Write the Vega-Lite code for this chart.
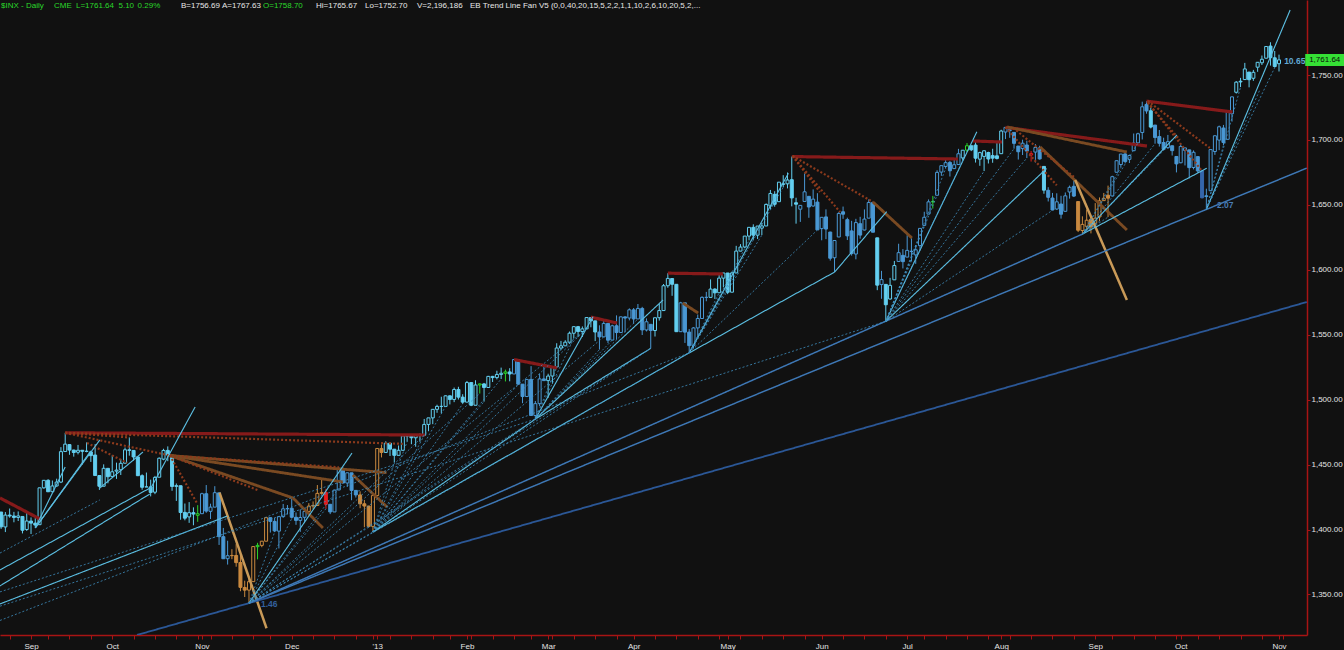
{
"$schema":"https://vega.github.io/schema/vega-lite/v6.json",
"width":1307,"height":635,
"autosize":{"type":"none"},
"padding":{"left":0,"top":0,"right":37,"bottom":15},
"background":"#111111",
"config":{"view":{"stroke":null}},
"datasets":{
"ohlc":[
{"i":0,"o":1413.49,"h":1413.49,"l":1400.5,"c":1402.08,"t":"c"},
{"i":1,"o":1401.99,"h":1413.46,"l":1398.04,"c":1411.13,"t":"c"},
{"i":2,"o":1411.13,"h":1416.17,"l":1409.11,"c":1410.44,"t":"c"},
{"i":3,"o":1410.44,"h":1413.63,"l":1405.59,"c":1409.3,"t":"c"},
{"i":4,"o":1409.32,"h":1413.95,"l":1406.57,"c":1410.49,"t":"c"},
{"i":5,"o":1410.08,"h":1410.08,"l":1397.01,"c":1399.48,"t":"c"},
{"i":6,"o":1400.07,"h":1413.09,"l":1398.96,"c":1406.58,"t":"c"},
{"i":7,"o":1406.54,"h":1409.31,"l":1396.56,"c":1404.94,"t":"c"},
{"i":8,"o":1404.94,"h":1408.81,"l":1401.25,"c":1403.44,"t":"c"},
{"i":9,"o":1403.74,"h":1432.12,"l":1403.74,"c":1432.12,"t":"c"},
{"i":10,"o":1432.12,"h":1437.92,"l":1431.45,"c":1437.92,"t":"c"},
{"i":11,"o":1437.92,"h":1438.74,"l":1428.98,"c":1429.08,"t":"c"},
{"i":12,"o":1429.13,"h":1437.76,"l":1429.13,"c":1433.56,"t":"c"},
{"i":13,"o":1433.56,"h":1439.15,"l":1432.99,"c":1436.56,"t":"c"},
{"i":14,"o":1436.56,"h":1463.46,"l":1435.77,"c":1459.99,"t":"c"},
{"i":15,"o":1460.07,"h":1474.51,"l":1460.07,"c":1465.77,"t":"c"},
{"i":16,"o":1465.42,"h":1465.63,"l":1457.55,"c":1461.19,"t":"c"},
{"i":17,"o":1461.19,"h":1461.47,"l":1456.13,"c":1459.32,"t":"c"},
{"i":18,"o":1459.5,"h":1465.15,"l":1457.88,"c":1461.05,"t":"c"},
{"i":19,"o":1461.05,"h":1461.23,"l":1449.98,"c":1460.26,"t":"c"},
{"i":20,"o":1460.34,"h":1467.07,"l":1459.51,"c":1460.15,"t":"c"},
{"i":21,"o":1459.76,"h":1460.72,"l":1452.06,"c":1456.89,"t":"c"},
{"i":22,"o":1457.38,"h":1465.75,"l":1441.59,"c":1441.59,"t":"c"},
{"i":23,"o":1441.6,"h":1441.6,"l":1430.53,"c":1433.32,"t":"c"},
{"i":24,"o":1433.36,"h":1450.2,"l":1433.36,"c":1447.15,"t":"c"},
{"i":25,"o":1447.13,"h":1447.13,"l":1435.6,"c":1440.67,"t":"c"},
{"i":26,"o":1440.9,"h":1457.14,"l":1440.9,"c":1444.49,"t":"c"},
{"i":27,"o":1444.99,"h":1451.52,"l":1439.01,"c":1445.75,"t":"c"},
{"i":28,"o":1446.05,"h":1454.3,"l":1441.99,"c":1450.99,"t":"c"},
{"i":29,"o":1451.08,"h":1463.14,"l":1451.08,"c":1461.4,"t":"c"},
{"i":30,"o":1461.4,"h":1470.96,"l":1456.89,"c":1460.93,"t":"c"},
{"i":31,"o":1460.93,"h":1460.93,"l":1453.1,"c":1455.88,"t":"c"},
{"i":32,"o":1455.9,"h":1455.9,"l":1441.18,"c":1441.48,"t":"c"},
{"i":33,"o":1441.48,"h":1442.52,"l":1430.64,"c":1432.56,"t":"c"},
{"i":34,"o":1432.82,"h":1443.9,"l":1432.82,"c":1432.84,"t":"c"},
{"i":35,"o":1432.84,"h":1438.43,"l":1425.53,"c":1428.59,"t":"c"},
{"i":36,"o":1428.75,"h":1441.31,"l":1427.24,"c":1440.13,"t":"c"},
{"i":37,"o":1440.31,"h":1455.51,"l":1440.31,"c":1454.92,"t":"c"},
{"i":38,"o":1454.22,"h":1462.2,"l":1453.35,"c":1460.91,"t":"c"},
{"i":39,"o":1460.94,"h":1464.02,"l":1452.63,"c":1457.34,"t":"c"},
{"i":40,"o":1457.34,"h":1457.34,"l":1429.85,"c":1433.19,"t":"c"},
{"i":41,"o":1433.21,"h":1435.46,"l":1422.06,"c":1433.82,"t":"c"},
{"i":42,"o":1433.74,"h":1433.74,"l":1407.56,"c":1413.11,"t":"c"},
{"i":43,"o":1413.2,"h":1420.04,"l":1407.1,"c":1408.75,"t":"c"},
{"i":44,"o":1409.74,"h":1421.12,"l":1405.14,"c":1412.97,"t":"c"},
{"i":45,"o":1412.97,"h":1417.09,"l":1403.28,"c":1411.94,"t":"c"},
{"i":46,"o":1410.99,"h":1418.76,"l":1405.95,"c":1412.16,"t":"g"},
{"i":47,"o":1412.2,"h":1428.35,"l":1412.2,"c":1427.59,"t":"b"},
{"i":48,"o":1427.59,"h":1434.27,"l":1412.91,"c":1414.2,"t":"b"},
{"i":49,"o":1414.02,"h":1419.9,"l":1408.13,"c":1417.26,"t":"b"},
{"i":50,"o":1417.26,"h":1433.38,"l":1417.26,"c":1428.39,"t":"b"},
{"i":51,"o":1428.27,"h":1428.27,"l":1388.14,"c":1394.53,"t":"b"},
{"i":52,"o":1394.53,"h":1401.23,"l":1377.51,"c":1377.51,"t":"b"},
{"i":53,"o":1377.55,"h":1391.39,"l":1373.03,"c":1379.85,"t":"b"},
{"i":54,"o":1379.86,"h":1384.87,"l":1377.19,"c":1380.03,"t":"o"},
{"i":55,"o":1380.03,"h":1388.81,"l":1371.39,"c":1374.53,"t":"o"},
{"i":56,"o":1374.64,"h":1380.13,"l":1352.5,"c":1355.49,"t":"o"},
{"i":57,"o":1355.41,"h":1360.62,"l":1348.05,"c":1353.33,"t":"o"},
{"i":58,"o":1353.36,"h":1362.03,"l":1343.35,"c":1359.88,"t":"o"},
{"i":59,"o":1359.88,"h":1386.89,"l":1359.88,"c":1386.89,"t":"o"},
{"i":60,"o":1386.82,"h":1389.77,"l":1377.04,"c":1387.81,"t":"g"},
{"i":61,"o":1387.79,"h":1391.25,"l":1386.39,"c":1391.03,"t":"o"},
{"i":62,"o":1391.03,"h":1409.16,"l":1391.03,"c":1409.15,"t":"o"},
{"i":63,"o":1409.15,"h":1409.15,"l":1397.68,"c":1406.29,"t":"b"},
{"i":64,"o":1406.29,"h":1409.01,"l":1398.03,"c":1398.94,"t":"b"},
{"i":65,"o":1398.77,"h":1410.31,"l":1385.43,"c":1409.93,"t":"b"},
{"i":66,"o":1409.96,"h":1419.7,"l":1409.04,"c":1415.95,"t":"b"},
{"i":67,"o":1415.95,"h":1418.86,"l":1411.63,"c":1416.18,"t":"b"},
{"i":68,"o":1416.34,"h":1423.73,"l":1408.46,"c":1409.46,"t":"b"},
{"i":69,"o":1409.46,"h":1413.14,"l":1403.65,"c":1407.05,"t":"b"},
{"i":70,"o":1407.05,"h":1415.56,"l":1398.23,"c":1409.28,"t":"b"},
{"i":71,"o":1409.43,"h":1413.95,"l":1405.93,"c":1413.94,"t":"b"},
{"i":72,"o":1413.95,"h":1420.34,"l":1410.9,"c":1418.07,"t":"o"},
{"i":73,"o":1418.07,"h":1421.64,"l":1415.64,"c":1418.55,"t":"o"},
{"i":74,"o":1418.55,"h":1434.27,"l":1418.55,"c":1427.84,"t":"o"},
{"i":75,"o":1427.84,"h":1438.59,"l":1426.76,"c":1428.48,"t":"o"},
{"i":76,"o":1428.48,"h":1431.36,"l":1416.0,"c":1419.45,"t":"r"},
{"i":77,"o":1419.45,"h":1419.45,"l":1411.88,"c":1413.58,"t":"b"},
{"i":78,"o":1413.54,"h":1430.67,"l":1413.54,"c":1430.36,"t":"b"},
{"i":79,"o":1430.47,"h":1448.0,"l":1430.47,"c":1446.79,"t":"b"},
{"i":80,"o":1446.79,"h":1447.75,"l":1435.8,"c":1435.81,"t":"b"},
{"i":81,"o":1435.81,"h":1443.7,"l":1432.82,"c":1443.69,"t":"b"},
{"i":82,"o":1443.67,"h":1443.67,"l":1422.58,"c":1430.15,"t":"b"},
{"i":83,"o":1430.15,"h":1430.15,"l":1424.66,"c":1426.66,"t":"b"},
{"i":84,"o":1426.66,"h":1429.42,"l":1416.43,"c":1419.83,"t":"o"},
{"i":85,"o":1419.83,"h":1422.8,"l":1401.8,"c":1418.1,"t":"o"},
{"i":86,"o":1418.1,"h":1418.1,"l":1401.58,"c":1402.43,"t":"o"},
{"i":87,"o":1402.43,"h":1426.74,"l":1398.11,"c":1426.19,"t":"o"},
{"i":88,"o":1426.19,"h":1462.43,"l":1426.19,"c":1462.42,"t":"o"},
{"i":89,"o":1462.42,"h":1465.47,"l":1455.53,"c":1459.37,"t":"o"},
{"i":90,"o":1459.37,"h":1467.94,"l":1458.99,"c":1466.47,"t":"c"},
{"i":91,"o":1466.47,"h":1466.47,"l":1456.62,"c":1461.89,"t":"c"},
{"i":92,"o":1461.89,"h":1461.89,"l":1451.64,"c":1457.15,"t":"c"},
{"i":93,"o":1457.15,"h":1464.73,"l":1457.15,"c":1461.02,"t":"c"},
{"i":94,"o":1461.02,"h":1472.3,"l":1461.02,"c":1472.12,"t":"c"},
{"i":95,"o":1472.12,"h":1472.75,"l":1467.58,"c":1472.05,"t":"c"},
{"i":96,"o":1472.05,"h":1472.05,"l":1465.69,"c":1470.68,"t":"c"},
{"i":97,"o":1470.67,"h":1473.31,"l":1463.76,"c":1472.34,"t":"c"},
{"i":98,"o":1472.33,"h":1473.96,"l":1467.6,"c":1472.63,"t":"c"},
{"i":99,"o":1472.63,"h":1485.16,"l":1472.63,"c":1480.94,"t":"c"},
{"i":100,"o":1480.95,"h":1485.98,"l":1475.81,"c":1485.98,"t":"c"},
{"i":101,"o":1485.98,"h":1492.56,"l":1481.16,"c":1492.56,"t":"c"},
{"i":102,"o":1492.56,"h":1496.13,"l":1489.9,"c":1494.81,"t":"c"},
{"i":103,"o":1494.81,"h":1502.27,"l":1489.46,"c":1494.82,"t":"c"},
{"i":104,"o":1494.82,"h":1503.26,"l":1494.82,"c":1502.96,"t":"c"},
{"i":105,"o":1502.96,"h":1503.23,"l":1496.33,"c":1500.18,"t":"c"},
{"i":106,"o":1500.18,"h":1509.35,"l":1498.09,"c":1507.84,"t":"c"},
{"i":107,"o":1507.84,"h":1509.94,"l":1500.11,"c":1501.96,"t":"c"},
{"i":108,"o":1501.96,"h":1504.19,"l":1496.76,"c":1498.11,"t":"c"},
{"i":109,"o":1498.11,"h":1514.41,"l":1498.11,"c":1513.17,"t":"c"},
{"i":110,"o":1513.17,"h":1513.17,"l":1495.02,"c":1495.71,"t":"c"},
{"i":111,"o":1495.71,"h":1514.96,"l":1495.71,"c":1511.29,"t":"c"},
{"i":112,"o":1511.29,"h":1512.53,"l":1504.71,"c":1512.12,"t":"g"},
{"i":113,"o":1512.12,"h":1512.9,"l":1498.49,"c":1509.39,"t":"c"},
{"i":114,"o":1509.39,"h":1518.31,"l":1509.39,"c":1517.93,"t":"c"},
{"i":115,"o":1517.93,"h":1518.31,"l":1513.61,"c":1517.01,"t":"c"},
{"i":116,"o":1517.01,"h":1522.29,"l":1515.61,"c":1519.43,"t":"c"},
{"i":117,"o":1519.43,"h":1524.69,"l":1515.93,"c":1520.33,"t":"c"},
{"i":118,"o":1520.33,"h":1523.14,"l":1514.02,"c":1521.38,"t":"g"},
{"i":119,"o":1521.38,"h":1524.24,"l":1514.14,"c":1519.79,"t":"c"},
{"i":120,"o":1519.79,"h":1530.94,"l":1519.79,"c":1530.94,"t":"b"},
{"i":121,"o":1530.94,"h":1530.94,"l":1511.41,"c":1511.95,"t":"b"},
{"i":122,"o":1511.95,"h":1511.95,"l":1497.29,"c":1502.42,"t":"b"},
{"i":123,"o":1502.42,"h":1515.64,"l":1502.42,"c":1515.6,"t":"b"},
{"i":124,"o":1515.6,"h":1525.84,"l":1487.85,"c":1487.85,"t":"b"},
{"i":125,"o":1487.85,"h":1498.99,"l":1485.01,"c":1496.94,"t":"b"},
{"i":126,"o":1496.94,"h":1520.08,"l":1494.88,"c":1515.99,"t":"b"},
{"i":127,"o":1515.99,"h":1525.34,"l":1514.46,"c":1514.68,"t":"b"},
{"i":128,"o":1514.68,"h":1519.99,"l":1501.48,"c":1518.2,"t":"c"},
{"i":129,"o":1518.2,"h":1525.27,"l":1512.29,"c":1525.2,"t":"c"},
{"i":130,"o":1525.2,"h":1543.47,"l":1525.2,"c":1539.79,"t":"c"},
{"i":131,"o":1539.79,"h":1545.25,"l":1538.11,"c":1541.46,"t":"c"},
{"i":132,"o":1541.46,"h":1545.78,"l":1541.46,"c":1544.26,"t":"c"},
{"i":133,"o":1544.26,"h":1552.48,"l":1542.94,"c":1551.18,"t":"c"},
{"i":134,"o":1551.15,"h":1556.27,"l":1547.36,"c":1556.22,"t":"c"},
{"i":135,"o":1556.22,"h":1556.77,"l":1548.24,"c":1552.48,"t":"c"},
{"i":136,"o":1552.48,"h":1556.39,"l":1548.25,"c":1554.52,"t":"c"},
{"i":137,"o":1554.52,"h":1563.32,"l":1554.52,"c":1563.23,"t":"c"},
{"i":138,"o":1563.21,"h":1563.62,"l":1555.74,"c":1560.7,"t":"c"},
{"i":139,"o":1560.7,"h":1560.7,"l":1545.13,"c":1552.1,"t":"c"},
{"i":140,"o":1552.1,"h":1557.25,"l":1538.57,"c":1548.34,"t":"b"},
{"i":141,"o":1548.34,"h":1561.56,"l":1548.34,"c":1558.71,"t":"b"},
{"i":142,"o":1558.71,"h":1558.71,"l":1543.55,"c":1545.8,"t":"b"},
{"i":143,"o":1545.9,"h":1557.74,"l":1545.9,"c":1556.89,"t":"b"},
{"i":144,"o":1556.89,"h":1564.91,"l":1546.22,"c":1551.69,"t":"b"},
{"i":145,"o":1551.69,"h":1563.95,"l":1551.69,"c":1563.77,"t":"b"},
{"i":146,"o":1563.75,"h":1564.07,"l":1551.9,"c":1562.85,"t":"b"},
{"i":147,"o":1562.86,"h":1570.28,"l":1561.08,"c":1569.19,"t":"b"},
{"i":148,"o":1569.18,"h":1570.57,"l":1558.47,"c":1562.17,"t":"b"},
{"i":149,"o":1562.17,"h":1573.66,"l":1562.17,"c":1570.25,"t":"b"},
{"i":150,"o":1570.25,"h":1571.47,"l":1549.8,"c":1553.69,"t":"b"},
{"i":151,"o":1553.69,"h":1562.6,"l":1552.52,"c":1559.98,"t":"b"},
{"i":152,"o":1558.02,"h":1558.02,"l":1539.5,"c":1553.28,"t":"b"},
{"i":153,"o":1553.26,"h":1563.07,"l":1548.63,"c":1563.07,"t":"c"},
{"i":154,"o":1563.11,"h":1573.89,"l":1560.92,"c":1568.61,"t":"c"},
{"i":155,"o":1568.61,"h":1589.07,"l":1568.61,"c":1587.73,"t":"c"},
{"i":156,"o":1587.73,"h":1597.35,"l":1586.17,"c":1593.37,"t":"c"},
{"i":157,"o":1593.3,"h":1593.3,"l":1579.97,"c":1588.85,"t":"c"},
{"i":158,"o":1588.84,"h":1588.84,"l":1552.28,"c":1552.36,"t":"c"},
{"i":159,"o":1552.36,"h":1575.35,"l":1552.36,"c":1574.57,"t":"b"},
{"i":160,"o":1574.57,"h":1574.57,"l":1543.69,"c":1552.01,"t":"b"},
{"i":161,"o":1552.03,"h":1554.38,"l":1536.03,"c":1541.61,"t":"b"},
{"i":162,"o":1541.61,"h":1555.89,"l":1539.4,"c":1555.25,"t":"b"},
{"i":163,"o":1555.25,"h":1565.55,"l":1548.19,"c":1562.5,"t":"b"},
{"i":164,"o":1562.5,"h":1579.58,"l":1562.5,"c":1578.78,"t":"b"},
{"i":165,"o":1578.78,"h":1583.0,"l":1575.8,"c":1578.79,"t":"b"},
{"i":166,"o":1578.78,"h":1592.64,"l":1578.78,"c":1585.16,"t":"c"},
{"i":167,"o":1585.16,"h":1585.78,"l":1577.56,"c":1582.24,"t":"c"},
{"i":168,"o":1582.34,"h":1596.65,"l":1582.34,"c":1593.61,"t":"c"},
{"i":169,"o":1593.58,"h":1597.57,"l":1586.5,"c":1597.57,"t":"c"},
{"i":170,"o":1597.55,"h":1597.55,"l":1581.28,"c":1582.7,"t":"c"},
{"i":171,"o":1582.77,"h":1598.6,"l":1582.77,"c":1597.59,"t":"c"},
{"i":172,"o":1597.6,"h":1618.46,"l":1597.6,"c":1614.42,"t":"c"},
{"i":173,"o":1614.4,"h":1619.77,"l":1614.21,"c":1617.5,"t":"c"},
{"i":174,"o":1617.55,"h":1626.03,"l":1616.64,"c":1625.96,"t":"c"},
{"i":175,"o":1625.95,"h":1632.78,"l":1622.7,"c":1632.69,"t":"c"},
{"i":176,"o":1632.69,"h":1635.01,"l":1623.09,"c":1626.67,"t":"c"},
{"i":177,"o":1626.69,"h":1633.7,"l":1623.71,"c":1633.7,"t":"c"},
{"i":178,"o":1632.1,"h":1636.0,"l":1626.74,"c":1633.77,"t":"c"},
{"i":179,"o":1633.75,"h":1651.1,"l":1633.75,"c":1650.34,"t":"c"},
{"i":180,"o":1649.13,"h":1661.49,"l":1646.68,"c":1658.78,"t":"c"},
{"i":181,"o":1658.07,"h":1660.51,"l":1648.6,"c":1650.47,"t":"c"},
{"i":182,"o":1652.45,"h":1667.47,"l":1652.45,"c":1667.47,"t":"c"},
{"i":183,"o":1665.71,"h":1672.84,"l":1663.52,"c":1666.29,"t":"c"},
{"i":184,"o":1666.2,"h":1674.93,"l":1662.67,"c":1669.16,"t":"c"},
{"i":185,"o":1669.39,"h":1687.18,"l":1648.86,"c":1655.35,"t":"c"},
{"i":186,"o":1651.62,"h":1655.5,"l":1635.53,"c":1650.51,"t":"c"},
{"i":187,"o":1646.67,"h":1649.78,"l":1636.88,"c":1649.6,"t":"b"},
{"i":188,"o":1652.63,"h":1674.21,"l":1652.63,"c":1660.06,"t":"b"},
{"i":189,"o":1656.57,"h":1656.57,"l":1640.05,"c":1648.36,"t":"b"},
{"i":190,"o":1649.14,"h":1661.91,"l":1648.61,"c":1654.41,"t":"b"},
{"i":191,"o":1652.13,"h":1658.99,"l":1630.74,"c":1630.74,"t":"b"},
{"i":192,"o":1631.71,"h":1640.42,"l":1622.72,"c":1640.42,"t":"b"},
{"i":193,"o":1640.73,"h":1646.53,"l":1623.62,"c":1631.38,"t":"b"},
{"i":194,"o":1629.05,"h":1629.31,"l":1607.09,"c":1608.9,"t":"b"},
{"i":195,"o":1609.29,"h":1622.56,"l":1598.23,"c":1622.56,"t":"b"},
{"i":196,"o":1625.27,"h":1644.4,"l":1625.27,"c":1643.38,"t":"b"},
{"i":197,"o":1644.67,"h":1648.69,"l":1639.26,"c":1642.81,"t":"b"},
{"i":198,"o":1638.64,"h":1640.13,"l":1622.92,"c":1626.13,"t":"b"},
{"i":199,"o":1629.94,"h":1637.71,"l":1610.92,"c":1612.52,"t":"b"},
{"i":200,"o":1612.15,"h":1639.25,"l":1608.07,"c":1636.36,"t":"b"},
{"i":201,"o":1635.52,"h":1640.8,"l":1623.96,"c":1626.73,"t":"b"},
{"i":202,"o":1630.64,"h":1646.5,"l":1630.34,"c":1639.04,"t":"b"},
{"i":203,"o":1639.77,"h":1654.19,"l":1639.77,"c":1651.81,"t":"b"},
{"i":204,"o":1651.83,"h":1652.45,"l":1628.91,"c":1628.93,"t":"b"},
{"i":205,"o":1624.62,"h":1624.62,"l":1584.32,"c":1588.19,"t":"c"},
{"i":206,"o":1588.62,"h":1599.19,"l":1577.7,"c":1592.43,"t":"b"},
{"i":207,"o":1588.77,"h":1588.77,"l":1560.33,"c":1573.09,"t":"c"},
{"i":208,"o":1577.52,"h":1593.79,"l":1577.09,"c":1588.03,"t":"c"},
{"i":209,"o":1592.27,"h":1606.83,"l":1592.27,"c":1603.26,"t":"c"},
{"i":210,"o":1606.44,"h":1620.07,"l":1606.44,"c":1613.2,"t":"b"},
{"i":211,"o":1611.12,"h":1615.94,"l":1601.06,"c":1606.28,"t":"b"},
{"i":212,"o":1609.78,"h":1626.61,"l":1609.78,"c":1614.96,"t":"b"},
{"i":213,"o":1614.29,"h":1624.26,"l":1606.77,"c":1614.08,"t":"b"},
{"i":214,"o":1611.48,"h":1618.97,"l":1604.57,"c":1615.41,"t":"b"},
{"i":215,"o":1618.65,"h":1632.07,"l":1614.71,"c":1631.89,"t":"b"},
{"i":216,"o":1634.2,"h":1644.68,"l":1634.2,"c":1640.46,"t":"b"},
{"i":217,"o":1642.89,"h":1654.18,"l":1642.89,"c":1652.32,"t":"b"},
{"i":218,"o":1652.29,"h":1656.92,"l":1647.17,"c":1652.62,"t":"g"},
{"i":219,"o":1657.41,"h":1676.63,"l":1657.41,"c":1675.02,"t":"b"},
{"i":220,"o":1675.26,"h":1680.19,"l":1672.33,"c":1680.19,"t":"b"},
{"i":221,"o":1679.59,"h":1684.51,"l":1677.89,"c":1682.5,"t":"b"},
{"i":222,"o":1682.7,"h":1683.73,"l":1671.84,"c":1676.26,"t":"b"},
{"i":223,"o":1677.91,"h":1684.75,"l":1677.91,"c":1680.91,"t":"b"},
{"i":224,"o":1681.05,"h":1693.12,"l":1681.05,"c":1689.37,"t":"b"},
{"i":225,"o":1686.15,"h":1692.09,"l":1684.08,"c":1692.09,"t":"c"},
{"i":226,"o":1692.09,"h":1697.61,"l":1690.67,"c":1695.53,"t":"g"},
{"i":227,"o":1695.53,"h":1695.53,"l":1691.39,"c":1692.39,"t":"c"},
{"i":228,"o":1696.06,"h":1698.38,"l":1682.57,"c":1685.94,"t":"c"},
{"i":229,"o":1685.21,"h":1690.94,"l":1680.07,"c":1690.25,"t":"c"},
{"i":230,"o":1687.31,"h":1691.85,"l":1676.03,"c":1691.65,"t":"c"},
{"i":231,"o":1690.32,"h":1690.92,"l":1681.86,"c":1685.33,"t":"c"},
{"i":232,"o":1687.92,"h":1693.19,"l":1682.42,"c":1685.96,"t":"c"},
{"i":233,"o":1687.76,"h":1698.43,"l":1684.94,"c":1685.73,"t":"c"},
{"i":234,"o":1689.42,"h":1707.85,"l":1689.42,"c":1706.87,"t":"c"},
{"i":235,"o":1706.1,"h":1709.67,"l":1700.68,"c":1709.67,"t":"b"},
{"i":236,"o":1708.01,"h":1709.24,"l":1701.63,"c":1707.14,"t":"b"},
{"i":237,"o":1705.79,"h":1705.79,"l":1693.29,"c":1697.37,"t":"b"},
{"i":238,"o":1695.3,"h":1695.3,"l":1684.91,"c":1690.91,"t":"b"},
{"i":239,"o":1693.35,"h":1700.18,"l":1688.38,"c":1697.48,"t":"b"},
{"i":240,"o":1696.1,"h":1699.42,"l":1686.02,"c":1691.42,"t":"b"},
{"i":241,"o":1688.37,"h":1691.49,"l":1683.35,"c":1689.47,"t":"r"},
{"i":242,"o":1690.65,"h":1696.81,"l":1682.62,"c":1694.16,"t":"b"},
{"i":243,"o":1693.88,"h":1695.52,"l":1684.83,"c":1685.39,"t":"b"},
{"i":244,"o":1679.61,"h":1679.61,"l":1658.59,"c":1661.32,"t":"c"},
{"i":245,"o":1661.22,"h":1663.6,"l":1652.61,"c":1655.83,"t":"b"},
{"i":246,"o":1655.25,"h":1659.18,"l":1645.84,"c":1646.06,"t":"b"},
{"i":247,"o":1646.81,"h":1658.92,"l":1646.08,"c":1652.35,"t":"b"},
{"i":248,"o":1650.66,"h":1656.99,"l":1639.43,"c":1642.8,"t":"b"},
{"i":249,"o":1645.03,"h":1659.55,"l":1645.03,"c":1656.96,"t":"b"},
{"i":250,"o":1659.92,"h":1664.85,"l":1654.81,"c":1663.5,"t":"b"},
{"i":251,"o":1664.29,"h":1669.51,"l":1656.02,"c":1656.78,"t":"b"},
{"i":252,"o":1652.54,"h":1652.54,"l":1629.05,"c":1630.48,"t":"o"},
{"i":253,"o":1630.25,"h":1641.18,"l":1627.47,"c":1634.96,"t":"o"},
{"i":254,"o":1633.5,"h":1646.41,"l":1630.88,"c":1638.17,"t":"o"},
{"i":255,"o":1638.89,"h":1640.08,"l":1628.05,"c":1632.97,"t":"o"},
{"i":256,"o":1635.95,"h":1651.35,"l":1633.41,"c":1639.77,"t":"o"},
{"i":257,"o":1640.72,"h":1655.72,"l":1637.41,"c":1653.08,"t":"o"},
{"i":258,"o":1653.28,"h":1659.17,"l":1653.07,"c":1655.08,"t":"o"},
{"i":259,"o":1657.44,"h":1664.83,"l":1640.62,"c":1655.17,"t":"o"},
{"i":260,"o":1656.85,"h":1672.4,"l":1656.85,"c":1671.71,"t":"b"},
{"i":261,"o":1675.11,"h":1684.09,"l":1675.11,"c":1683.99,"t":"b"},
{"i":262,"o":1681.04,"h":1689.13,"l":1678.7,"c":1689.13,"t":"b"},
{"i":263,"o":1689.21,"h":1689.97,"l":1681.96,"c":1683.42,"t":"b"},
{"i":264,"o":1685.04,"h":1688.73,"l":1682.22,"c":1687.99,"t":"b"},
{"i":265,"o":1691.7,"h":1704.95,"l":1691.7,"c":1697.6,"t":"b"},
{"i":266,"o":1697.73,"h":1705.52,"l":1697.73,"c":1704.76,"t":"b"},
{"i":267,"o":1705.74,"h":1729.44,"l":1700.35,"c":1725.52,"t":"b"},
{"i":268,"o":1727.34,"h":1729.86,"l":1720.2,"c":1722.34,"t":"b"},
{"i":269,"o":1722.44,"h":1725.23,"l":1708.89,"c":1709.91,"t":"c"},
{"i":270,"o":1711.44,"h":1711.44,"l":1697.1,"c":1701.84,"t":"b"},
{"i":271,"o":1702.6,"h":1707.63,"l":1694.9,"c":1697.42,"t":"b"},
{"i":272,"o":1698.02,"h":1701.71,"l":1691.88,"c":1692.77,"t":"b"},
{"i":273,"o":1694.05,"h":1703.85,"l":1693.11,"c":1698.67,"t":"b"},
{"i":274,"o":1695.52,"h":1695.52,"l":1687.99,"c":1691.75,"t":"b"},
{"i":275,"o":1687.26,"h":1687.26,"l":1674.99,"c":1681.55,"t":"b"},
{"i":276,"o":1682.41,"h":1696.55,"l":1682.07,"c":1695.0,"t":"b"},
{"i":277,"o":1691.9,"h":1693.87,"l":1680.34,"c":1693.87,"t":"b"},
{"i":278,"o":1692.35,"h":1692.35,"l":1670.36,"c":1678.66,"t":"b"},
{"i":279,"o":1678.79,"h":1691.94,"l":1677.33,"c":1690.5,"t":"b"},
{"i":280,"o":1687.15,"h":1687.15,"l":1674.7,"c":1676.12,"t":"b"},
{"i":281,"o":1676.22,"h":1676.79,"l":1655.03,"c":1655.45,"t":"d"},
{"i":282,"o":1656.99,"h":1662.47,"l":1646.47,"c":1656.4,"t":"b"},
{"i":283,"o":1660.88,"h":1692.56,"l":1660.88,"c":1692.56,"t":"b"},
{"i":284,"o":1691.09,"h":1703.44,"l":1688.52,"c":1703.2,"t":"b"},
{"i":285,"o":1699.86,"h":1711.03,"l":1692.13,"c":1710.14,"t":"b"},
{"i":286,"o":1709.17,"h":1711.57,"l":1695.93,"c":1698.06,"t":"b"},
{"i":287,"o":1700.49,"h":1721.76,"l":1700.49,"c":1721.54,"t":"b"},
{"i":288,"o":1720.17,"h":1733.45,"l":1714.12,"c":1733.15,"t":"b"},
{"i":289,"o":1736.72,"h":1745.31,"l":1735.74,"c":1744.5,"t":"c"},
{"i":290,"o":1745.2,"h":1747.79,"l":1740.67,"c":1744.66,"t":"c"},
{"i":291,"o":1746.48,"h":1759.33,"l":1746.48,"c":1754.67,"t":"c"},
{"i":292,"o":1752.27,"h":1752.27,"l":1740.5,"c":1746.38,"t":"c"},
{"i":293,"o":1747.48,"h":1753.94,"l":1745.5,"c":1752.07,"t":"c"},
{"i":294,"o":1756.01,"h":1759.82,"l":1752.45,"c":1759.77,"t":"c"},
{"i":295,"o":1759.42,"h":1764.99,"l":1757.67,"c":1762.11,"t":"c"},
{"i":296,"o":1762.93,"h":1772.09,"l":1762.93,"c":1771.95,"t":"c"},
{"i":297,"o":1772.27,"h":1775.22,"l":1757.24,"c":1763.31,"t":"c"},
{"i":298,"o":1763.24,"h":1768.53,"l":1755.72,"c":1756.54,"t":"c"},
{"i":299,"o":1758.7,"h":1765.67,"l":1752.7,"c":1761.64,"t":"c"}
],
"tl":[
{"k":"res","i":-0.26,"p":1424.3,"i2":9.1,"p2":1408.1},
{"k":"res","i":15,"p":1474.5,"i2":99.2,"p2":1472.8},
{"k":"res","i":120,"p":1530.9,"i2":130.1,"p2":1524.4},
{"k":"res","i":138,"p":1563.6,"i2":144.1,"p2":1559.0},
{"k":"res","i":156,"p":1597.4,"i2":168.9,"p2":1596.8},
{"k":"res","i":185,"p":1687.2,"i2":223.9,"p2":1685.3},
{"k":"res","i":227.4,"p":1699.2,"i2":234.2,"p2":1698.4},
{"k":"res","i":235,"p":1709.7,"i2":268.1,"p2":1695.3},
{"k":"res","i":268,"p":1729.9,"i2":288.1,"p2":1721.5},
{"k":"ores","i":39.5,"p":1457,"i2":90.2,"p2":1443.8},
{"k":"ores","i":39.5,"p":1457,"i2":80,"p2":1436.6},
{"k":"ores","i":39.5,"p":1457,"i2":68.3,"p2":1424.3},
{"k":"ores","i":82.3,"p":1442,"i2":90.3,"p2":1417.4},
{"k":"ores","i":68.3,"p":1424.3,"i2":75.3,"p2":1401.2},
{"k":"ores","i":235.4,"p":1710,"i2":263.4,"p2":1690.7},
{"k":"ores","i":243.1,"p":1694.6,"i2":263.4,"p2":1630.7},
{"k":"ores","i":204,"p":1652.2,"i2":213.1,"p2":1624.5},
{"k":"ores","i":159.5,"p":1574.4,"i2":163.1,"p2":1566.7},
{"k":"tan","i":51.1,"p":1428.4,"i2":62.1,"p2":1324.0},
{"k":"tan","i":251.3,"p":1669.2,"i2":263.4,"p2":1576.8},
{"k":"odot","i":15,"p":1474.5,"i2":39.5,"p2":1457},
{"k":"odot","i":39.5,"p":1457,"i2":45.8,"p2":1420.5},
{"k":"odot","i":20.1,"p":1466.7,"i2":29.5,"p2":1451.3},
{"k":"odot","i":268.3,"p":1730,"i2":282.8,"p2":1693.8},
{"k":"odot","i":268.3,"p":1728.4,"i2":275.8,"p2":1700},
{"k":"odot","i":236.8,"p":1709.2,"i2":251.3,"p2":1670.7},
{"k":"odot","i":185.2,"p":1687.6,"i2":204,"p2":1652.2},
{"k":"odot","i":185.2,"p":1687.6,"i2":196.3,"p2":1644.5},
{"k":"odot","i":185.2,"p":1687.6,"i2":191.6,"p2":1659.9},
{"k":"odot","i":15,"p":1474.5,"i2":94,"p2":1466},
{"k":"odot","i":15,"p":1474.5,"i2":30,"p2":1470.9},
{"k":"odot","i":39.5,"p":1457,"i2":60.3,"p2":1430},
{"k":"odot","i":39.5,"p":1457,"i2":79,"p2":1448},
{"k":"odot","i":268.3,"p":1729,"i2":281,"p2":1676},
{"k":"odot","i":235,"p":1709.7,"i2":247,"p2":1665},
{"k":"deep","i":31.8,"p":1318.8,"i2":305.5,"p2":1575.2},
{"k":"long","i":58,"p":1343.35,"i2":305.5,"p2":1678.3},
{"k":"long","i":58,"p":1343.35,"i2":253,"p2":1627.47},
{"k":"sup","i":8,"p":1401.25,"i2":15,"p2":1448.2},
{"k":"sup","i":8,"p":1401.25,"i2":20.8,"p2":1459.7},
{"k":"sup","i":8,"p":1401.25,"i2":23.1,"p2":1469},
{"k":"sup","i":-0.26,"p":1368.9,"i2":35.3,"p2":1432.8},
{"k":"sup","i":-0.26,"p":1342.7,"i2":52.9,"p2":1410.4},
{"k":"sup","i":-0.26,"p":1356.6,"i2":34.8,"p2":1427.4},
{"k":"sup","i":34.8,"p":1430.5,"i2":45.4,"p2":1494.4},
{"k":"sup","i":23.1,"p":1432,"i2":33.2,"p2":1459.7},
{"k":"sup","i":58,"p":1343.35,"i2":82.1,"p2":1458.9},
{"k":"sup","i":87,"p":1398.11,"i2":125,"p2":1485.01},
{"k":"sup","i":87,"p":1398.11,"i2":161,"p2":1536.03},
{"k":"sup","i":125,"p":1485.01,"i2":152,"p2":1539.5},
{"k":"sup","i":125,"p":1485.01,"i2":138.5,"p2":1563.9},
{"k":"sup","i":125,"p":1485.01,"i2":154.9,"p2":1576.8},
{"k":"sup","i":161,"p":1536.03,"i2":184.2,"p2":1674.3},
{"k":"sup","i":161,"p":1536.03,"i2":195,"p2":1598.23},
{"k":"sup","i":195,"p":1598.23,"i2":207.2,"p2":1644.8},
{"k":"sup","i":207,"p":1560.33,"i2":228.3,"p2":1706.3},
{"k":"sup","i":207,"p":1560.33,"i2":244.6,"p2":1678},
{"k":"sup","i":253,"p":1627.47,"i2":275.1,"p2":1703.8},
{"k":"sup","i":253,"p":1627.47,"i2":282.1,"p2":1678.2},
{"k":"sup","i":282,"p":1646.47,"i2":301.6,"p2":1800},
{"k":"dot","i":-0.26,"p":1341,"i2":207,"p2":1560.33},
{"k":"dot","i":-0.26,"p":1381.9,"i2":23.1,"p2":1422.8},
{"k":"dot","i":-0.26,"p":1330,"i2":161,"p2":1536.03},
{"k":"dot","i":-0.26,"p":1352,"i2":125,"p2":1485.01},
{"k":"dot","i":58,"p":1343.35,"i2":64,"p2":1398.03},
{"k":"dot","i":58,"p":1343.35,"i2":68,"p2":1408.46},
{"k":"dot","i":58,"p":1343.35,"i2":76,"p2":1416.0},
{"k":"dot","i":58,"p":1343.35,"i2":80,"p2":1435.8},
{"k":"dot","i":58,"p":1343.35,"i2":87,"p2":1398.11},
{"k":"dot","i":58,"p":1343.35,"i2":100,"p2":1475.81},
{"k":"dot","i":58,"p":1343.35,"i2":112,"p2":1504.71},
{"k":"dot","i":58,"p":1343.35,"i2":125,"p2":1485.01},
{"k":"dot","i":58,"p":1343.35,"i2":137,"p2":1554.52},
{"k":"dot","i":58,"p":1343.35,"i2":152,"p2":1539.5},
{"k":"dot","i":58,"p":1343.35,"i2":161,"p2":1536.03},
{"k":"dot","i":87,"p":1398.11,"i2":92,"p2":1451.64},
{"k":"dot","i":87,"p":1398.11,"i2":95,"p2":1467.58},
{"k":"dot","i":87,"p":1398.11,"i2":99,"p2":1472.63},
{"k":"dot","i":87,"p":1398.11,"i2":104,"p2":1494.82},
{"k":"dot","i":87,"p":1398.11,"i2":108,"p2":1496.76},
{"k":"dot","i":87,"p":1398.11,"i2":113,"p2":1498.49},
{"k":"dot","i":87,"p":1398.11,"i2":117,"p2":1515.93},
{"k":"dot","i":87,"p":1398.11,"i2":121,"p2":1511.41},
{"k":"dot","i":87,"p":1398.11,"i2":137,"p2":1554.52},
{"k":"dot","i":87,"p":1398.11,"i2":141,"p2":1548.34},
{"k":"dot","i":87,"p":1398.11,"i2":152,"p2":1539.5},
{"k":"dot","i":125,"p":1485.01,"i2":130,"p2":1525.2},
{"k":"dot","i":125,"p":1485.01,"i2":134,"p2":1547.36},
{"k":"dot","i":125,"p":1485.01,"i2":140,"p2":1538.57},
{"k":"dot","i":125,"p":1485.01,"i2":143,"p2":1545.9},
{"k":"dot","i":125,"p":1485.01,"i2":149,"p2":1562.17},
{"k":"dot","i":161,"p":1536.03,"i2":168,"p2":1582.34},
{"k":"dot","i":161,"p":1536.03,"i2":172,"p2":1597.6},
{"k":"dot","i":161,"p":1536.03,"i2":175,"p2":1622.7},
{"k":"dot","i":161,"p":1536.03,"i2":178,"p2":1626.74},
{"k":"dot","i":161,"p":1536.03,"i2":183,"p2":1663.52},
{"k":"dot","i":161,"p":1536.03,"i2":191,"p2":1630.74},
{"k":"dot","i":207,"p":1560.33,"i2":213,"p2":1606.77},
{"k":"dot","i":207,"p":1560.33,"i2":216,"p2":1634.2},
{"k":"dot","i":207,"p":1560.33,"i2":219,"p2":1657.41},
{"k":"dot","i":207,"p":1560.33,"i2":221,"p2":1677.89},
{"k":"dot","i":207,"p":1560.33,"i2":225,"p2":1684.08},
{"k":"dot","i":207,"p":1560.33,"i2":230,"p2":1676.03},
{"k":"dot","i":207,"p":1560.33,"i2":237,"p2":1693.29},
{"k":"dot","i":207,"p":1560.33,"i2":240,"p2":1686.02},
{"k":"dot","i":207,"p":1560.33,"i2":246,"p2":1645.84},
{"k":"dot","i":253,"p":1627.47,"i2":257,"p2":1637.41},
{"k":"dot","i":253,"p":1627.47,"i2":259,"p2":1640.62},
{"k":"dot","i":253,"p":1627.47,"i2":262,"p2":1678.7},
{"k":"dot","i":253,"p":1627.47,"i2":266,"p2":1697.73},
{"k":"dot","i":253,"p":1627.47,"i2":270,"p2":1697.1},
{"k":"dot","i":253,"p":1627.47,"i2":272,"p2":1691.88},
{"k":"dot","i":282,"p":1646.47,"i2":286,"p2":1695.93},
{"k":"dot","i":282,"p":1646.47,"i2":290,"p2":1740.67},
{"k":"dot","i":282,"p":1646.47,"i2":294.5,"p2":1738.4},
{"k":"dot","i":282,"p":1646.47,"i2":298,"p2":1755.72}
],
"hdr":[
{"t":"$INX - Daily","i":-0.02,"g":"q"},
{"t":"CME","i":12.38,"g":"q"},
{"t":"L=1761.64","i":17.52,"g":"q"},
{"t":"5.10","i":27.47,"g":"q"},
{"t":"0.29%","i":31.94,"g":"q"},
{"t":"B=1756.69","i":42.09,"g":"n"},
{"t":"A=1767.63","i":51.68,"g":"n"},
{"t":"O=1758.70","i":61.28,"g":"q"},
{"t":"Hi=1765.67","i":73.68,"g":"n"},
{"t":"Lo=1752.70","i":85.14,"g":"n"},
{"t":"V=2,196,186","i":97.31,"g":"n"},
{"t":"EB Trend Line Fan V5 (0,0,40,20,15,5,2,2,1,1,10,2,6,10,20,5,2,...","i":109.71,"g":"n"}
],
"lbl":[
{"t":"1.46","i":60.8,"p":1342.7,"k":"a"},
{"t":"2.07","i":284.5,"p":1650,"k":"b"},
{"t":"10.65","i":300.2,"p":1760.8,"k":"c"}
],
"tag":[{"p":1761.64,"t":"1,761.64"}]
},
"resolve":{"axis":{"x":"independent"},"scale":{"color":"independent","fill":"independent","stroke":"independent","strokeDash":"independent","strokeWidth":"independent"}},
"layer":[
{
"data":{"name":"ohlc"},
"mark":{"type":"rule","strokeWidth":1},
"encoding":{
"x":{"field":"i","type":"quantitative","title":null,"scale":{"domain":[-0.257,305.55],"nice":false,"zero":false,"padding":0},
"axis":{"orient":"bottom","values":[7,26,47,68,88,109,128,148,170,192,212,234,256,276,299],
"labelExpr":"['Sep','Oct','Nov','Dec',\"'13\",'Feb','Mar','Apr','May','Jun','Jul','Aug','Sep','Oct','Nov'][indexof([7,26,47,68,88,109,128,148,170,192,212,234,256,276,299],datum.value)]",
"domainColor":"#a81414","domainWidth":1.5,"tickColor":"#a81414","tickSize":4,"tickWidth":1,
"labelColor":"#e4e4e4","labelFont":"Liberation Sans, Arial, sans-serif","labelFontSize":8,"labelPadding":3,"labelOverlap":false,"labelFlush":false,"labelBound":false,"grid":false,"title":null}},
"y":{"field":"l","type":"quantitative","title":null,"scale":{"domain":[1318.8,1807.75],"nice":false,"zero":false},
"axis":{"orient":"right","values":[1350,1400,1450,1500,1550,1600,1650,1700,1750],"format":",.2f",
"domainColor":"#a81414","domainWidth":1.5,"tickColor":"#a81414","tickSize":3,"tickWidth":1,
"labelColor":"#e4e4e4","labelFont":"Liberation Sans, Arial, sans-serif","labelFontSize":8,"labelPadding":1,"labelOverlap":false,"grid":false,"title":null}},
"y2":{"field":"h"},
"color":{"field":"t","type":"nominal","legend":null,"scale":{"domain":["c","b","d","o","r","g"],"range":["#63cff0","#4a98d4","#3566ab","#c9893f","#e41b1b","#2bd42b"]}}
}
},
{
"data":{"name":"ohlc"},
"mark":{"type":"bar","width":3,"strokeWidth":1},
"encoding":{
"x":{"field":"i","type":"quantitative","title":null,"scale":{"domain":[-0.257,305.55],"nice":false,"zero":false,"padding":0},
"axis":{"orient":"bottom","values":[2,11,16,21,31,36,41,46,49,54,59,63,73,78,83,87,91,96,101,105,110,115,120,124,129,134,139,144,153,158,163,168,173,178,183,188,197,202,207,216,221,226,231,236,241,246,251,260,265,270,275,280,285,290,295,300],
"labels":false,"domain":false,"tickColor":"#a81414","tickSize":4,"tickWidth":1,"grid":false,"title":null}},
"y":{"field":"o","type":"quantitative","title":null,"scale":{"domain":[1318.8,1807.75],"nice":false,"zero":false}},
"y2":{"field":"c"},
"stroke":{"field":"t","type":"nominal","legend":null,"scale":{"domain":["c","b","d","o","r","g"],"range":["#63cff0","#4a98d4","#3566ab","#c9893f","#e41b1b","#2bd42b"]}},
"fill":{"field":"t","type":"nominal","legend":null,"scale":{"domain":["c","b","d","o","r","g"],"range":["#63cff0","#4a98d4","#3566ab","#c9893f","#e41b1b","#2bd42b"]},"condition":{"test":"datum.c >= datum.o","value":"#111111"}}
}
},
{
"data":{"name":"tl"},
"mark":{"type":"rule","clip":true},
"encoding":{
"x":{"field":"i","type":"quantitative","title":null,"axis":null,"scale":{"domain":[-0.257,305.55],"nice":false,"zero":false,"padding":0}},
"x2":{"field":"i2"},
"y":{"field":"p","type":"quantitative","title":null,"scale":{"domain":[1318.8,1807.75],"nice":false,"zero":false}},
"y2":{"field":"p2"},
"color":{"field":"k","type":"nominal","legend":null,"scale":{"domain":["res","ores","tan","odot","deep","long","sup","dot"],"range":["#861a1a","#7a4a22","#c99a58","#8c3a1c","#2b5796","#3e78b6","#5bbde0","#3f8fc0"]}},
"strokeWidth":{"field":"k","type":"nominal","legend":null,"scale":{"domain":["res","ores","tan","odot","deep","long","sup","dot"],"range":[3.2,0.8,1,1,1.3,1.2,1,1]}},
"strokeDash":{"field":"k","type":"nominal","legend":null,"scale":{"domain":["res","ores","tan","odot","deep","long","sup","dot"],"range":[[1,0],[1,0],[1,0],[2,2],[1,0],[1,0],[1,0],[2,2]]}}
}
},
{
"data":{"name":"lbl"},
"mark":{"type":"text","align":"left","baseline":"middle","fontWeight":"bold","font":"Liberation Sans, Arial, sans-serif","fontSize":8.5},
"encoding":{
"x":{"field":"i","type":"quantitative","title":null,"axis":null,"scale":{"domain":[-0.257,305.55],"nice":false,"zero":false,"padding":0}},
"y":{"field":"p","type":"quantitative","title":null,"scale":{"domain":[1318.8,1807.75],"nice":false,"zero":false}},
"text":{"field":"t"},
"color":{"field":"k","type":"nominal","legend":null,"scale":{"domain":["a","b","c"],"range":["#33609e","#4a7db5","#62a8d4"]}}
}
},
{
"data":{"name":"hdr"},
"mark":{"type":"text","align":"left","baseline":"middle","font":"Liberation Sans, Arial, sans-serif","fontSize":8},
"encoding":{
"x":{"field":"i","type":"quantitative","title":null,"axis":null,"scale":{"domain":[-0.257,305.55],"nice":false,"zero":false,"padding":0}},
"y":{"datum":1803.1,"type":"quantitative","title":null,"scale":{"domain":[1318.8,1807.75],"nice":false,"zero":false}},
"text":{"field":"t"},
"color":{"field":"g","type":"nominal","legend":null,"scale":{"domain":["q","n"],"range":["#2ad82a","#e8e8e8"]}}
}
},
{
"data":{"name":"tag"},
"mark":{"type":"tick","orient":"horizontal","size":39,"thickness":12,"color":"#35e035","opacity":1},
"encoding":{
"x":{"datum":309.7,"type":"quantitative","title":null,"axis":null,"scale":{"domain":[-0.257,305.55],"nice":false,"zero":false,"padding":0}},
"y":{"field":"p","type":"quantitative","title":null,"scale":{"domain":[1318.8,1807.75],"nice":false,"zero":false}}
}
},
{
"data":{"name":"tag"},
"mark":{"type":"text","align":"center","baseline":"middle","color":"#0a0a0a","font":"Liberation Sans, Arial, sans-serif","fontSize":8},
"encoding":{
"x":{"datum":309.7,"type":"quantitative","title":null,"axis":null,"scale":{"domain":[-0.257,305.55],"nice":false,"zero":false,"padding":0}},
"y":{"field":"p","type":"quantitative","title":null,"scale":{"domain":[1318.8,1807.75],"nice":false,"zero":false}},
"text":{"field":"t"}
}
}
]
}
